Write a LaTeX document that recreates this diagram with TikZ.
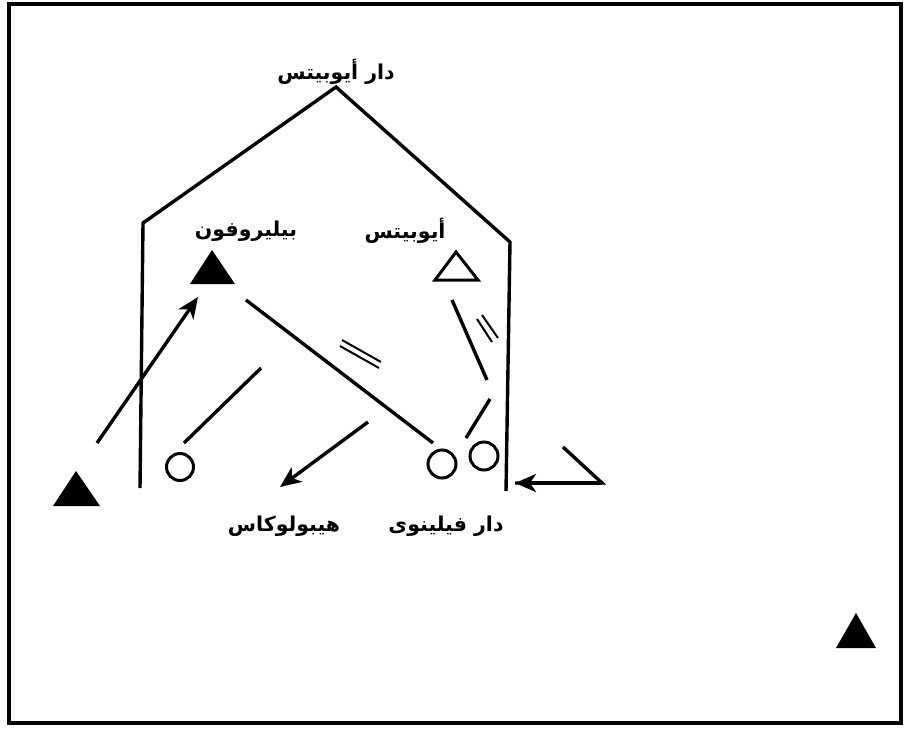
\documentclass[tikz,border=0pt]{standalone}
\usepackage{fontspec}
\usetikzlibrary{arrows.meta}
\TeXXeTstate=1
\newfontfamily\arabicfont[Script=Arabic]{DejaVu Sans}
\tikzset{
  ln/.style={line width=3.4pt},
  thin2/.style={line width=2pt},
  arr/.style={ln,-{Stealth[length=21pt,width=18pt,inset=6pt]}},
  lbl/.style={font=\arabicfont\bfseries\fontsize{20.5}{24}\selectfont,inner sep=0pt},
  circ/.style={line width=3pt,draw,circle,inner sep=0pt},
}
\begin{document}
\begin{tikzpicture}[x=1pt,y=-1pt]
\useasboundingbox (0,0) rectangle (912,728);
\draw[line width=3.5pt] (9,4) rectangle (901,723);
% labels
\node[lbl] (t1) at (336,72) {\beginR دار أيوبيتس\endR};
\node[lbl] (t2) at (246,231) {\beginR بيليروفون\endR};
\node[lbl] (t3) at (405,231) {\beginR أيوبيتس\endR};
\node[lbl] (t4) at (284,526) {\beginR هيبولوكاس\endR};
\node[lbl] (t5) at (446,526) {\beginR دار فيلينوى\endR};
% house outline
\draw[ln, line join=miter] (140,488) -- (143,223) -- (336,87) -- (510,242) -- (506,491);
% triangles
\fill (190,284) -- (212,250) -- (235,284) -- cycle;
\draw[line width=3pt, line join=miter] (435,280) -- (456,252) -- (478,280) -- cycle;
\fill (53,506) -- (76,471) -- (100,506) -- cycle;
\fill (836,648) -- (856,613) -- (876,648) -- cycle;
% circles
\node[circ,minimum size=27pt] (c1) at (180,467) {};
\node[circ,minimum size=28pt] (c2) at (442,464) {};
\node[circ,minimum size=28pt] (c3) at (484,456) {};
% coordinates
\coordinate (a1) at (97,443);
\coordinate (a2) at (198,297);
\coordinate (b1) at (184,443);
\coordinate (b2) at (261,368);
\coordinate (l1) at (246,300);
\coordinate (l2) at (433,443);
\coordinate (r1) at (452,300);
\coordinate (r2) at (487,380);
\coordinate (s1) at (490,399);
\coordinate (s2) at (466,438);
\coordinate (h1) at (368,422);
\coordinate (h2) at (280,487);
\coordinate (k1) at (563,447);
\coordinate (k2) at (602,483);
\coordinate (k3) at (515,483);
% connectors
\draw[arr] (a1) -- (a2);
\draw[ln] (b1) -- (b2);
\draw[ln] (l1) -- (l2);
\draw[ln] (r1) -- (r2);
\draw[ln] (s1) -- (s2);
\draw[arr] (h1) -- (h2);
\draw[ln, line join=miter] (k1) -- (k2) -- (k3);
\draw[arr] (k2) -- (k3);
% double strokes
\draw[thin2] (342,340) -- (381,362);
\draw[thin2] (340,346) -- (379,368);
\draw[thin2] (477,319) -- (492,342);
\draw[thin2] (482,315) -- (498,338);
\end{tikzpicture}
\end{document}
